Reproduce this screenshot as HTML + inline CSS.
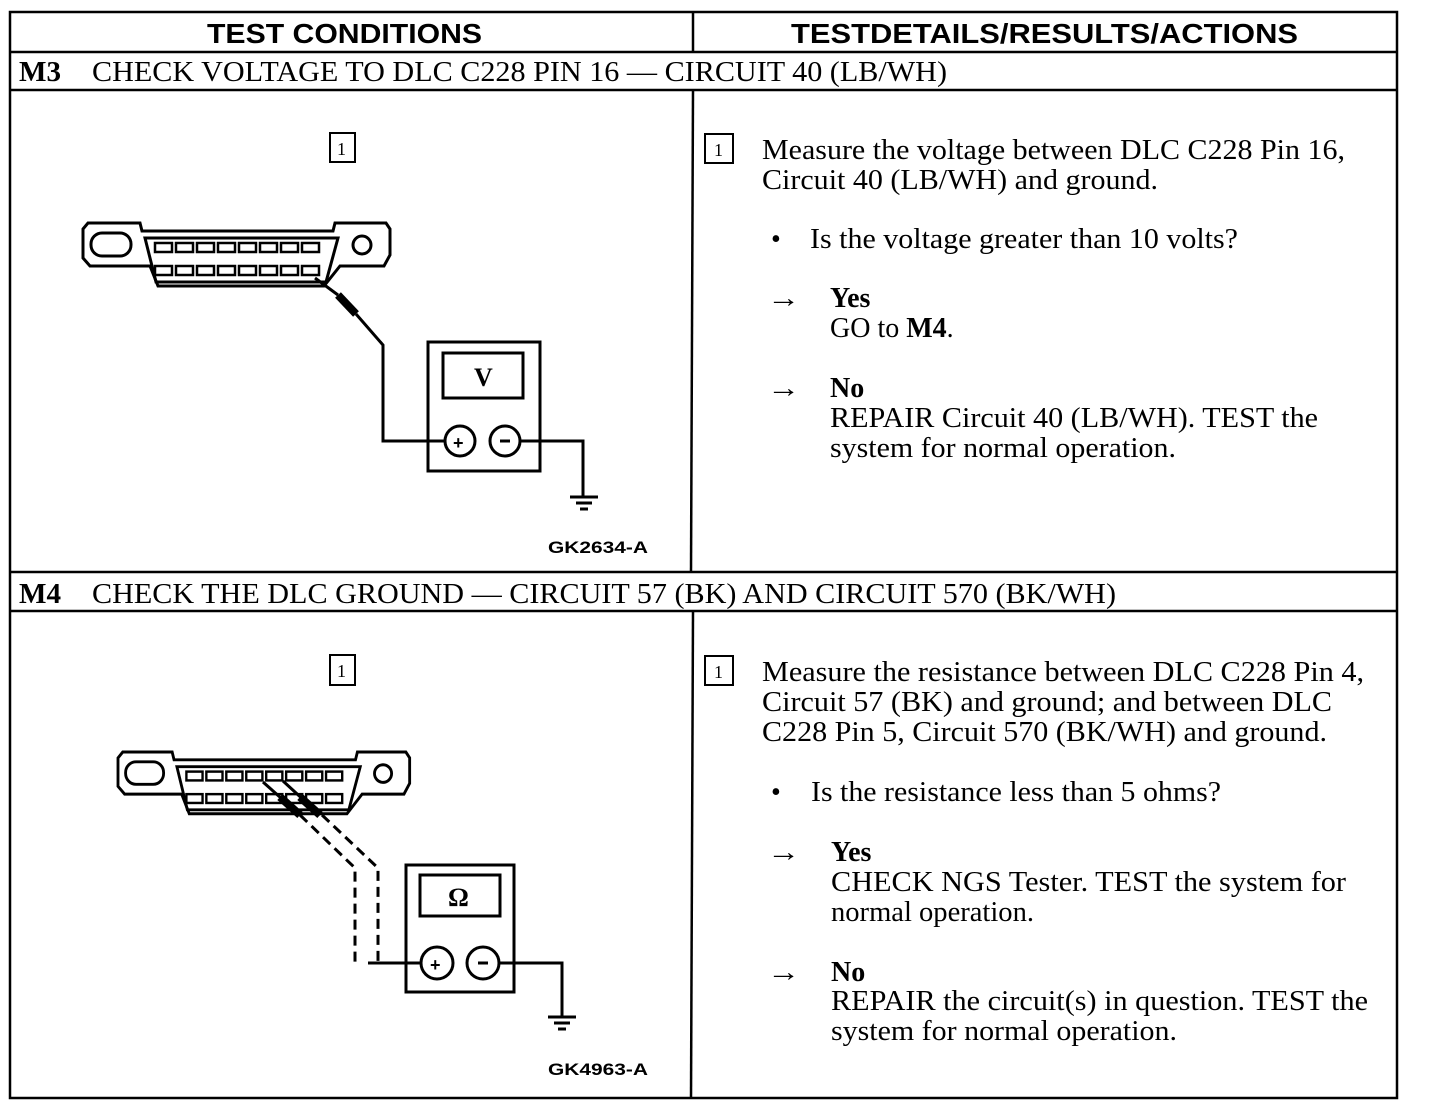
<!DOCTYPE html>
<html><head><meta charset="utf-8"><style>
html,body{margin:0;padding:0;background:#fff;}
svg{display:block;}
.s{font-family:"Liberation Serif",serif;font-size:28px;fill:#000;}
.b{font-weight:bold;}
.h{font-family:"Liberation Sans",sans-serif;font-weight:bold;font-size:28px;fill:#000;}
.g{font-family:"Liberation Sans",sans-serif;font-weight:bold;font-size:17px;fill:#000;}
</style></head><body>
<svg width="1440" height="1112" viewBox="0 0 1440 1112" xmlns="http://www.w3.org/2000/svg">
<defs>
<g id="conn" fill="none" stroke="#000" stroke-width="3">
  <path d="M83,229 L88,223 L140,223 L142,231 L333,231 L335,223 L386,223 L390,229 L390,255 L384,266 L340,266 L324,286 L158,286 L150,266 L90,266 L83,258 Z"/>
  <path d="M145,238 L338,238 L326,282 L156,282 Z"/>
  <rect x="91" y="233" width="40" height="23" rx="11"/>
  <circle cx="362" cy="245" r="9"/>
  <g stroke-width="2.5">
    <rect x="155" y="243" width="17" height="9"/><rect x="176" y="243" width="17" height="9"/><rect x="197" y="243" width="17" height="9"/><rect x="218" y="243" width="17" height="9"/><rect x="239" y="243" width="17" height="9"/><rect x="260" y="243" width="17" height="9"/><rect x="281" y="243" width="17" height="9"/><rect x="302" y="243" width="17" height="9"/>
    <rect x="155" y="266" width="17" height="9"/><rect x="176" y="266" width="17" height="9"/><rect x="197" y="266" width="17" height="9"/><rect x="218" y="266" width="17" height="9"/><rect x="239" y="266" width="17" height="9"/><rect x="260" y="266" width="17" height="9"/><rect x="281" y="266" width="17" height="9"/><rect x="302" y="266" width="17" height="9"/>
  </g>
</g>
</defs>

<g fill="none" stroke="#000" stroke-width="2.5">
  <rect x="10" y="12" width="1387" height="1086"/>
  <line x1="10" y1="52" x2="1397" y2="52"/>
  <line x1="10" y1="90" x2="1397" y2="90"/>
  <line x1="10" y1="572" x2="1397" y2="572"/>
  <line x1="10" y1="611" x2="1397" y2="611"/>
  <line x1="693" y1="12" x2="693" y2="52"/>
  <line x1="693" y1="90" x2="691" y2="572"/>
  <line x1="693" y1="611" x2="691" y2="1098"/>
</g>

<text class="h" x="207" y="43" textLength="275" lengthAdjust="spacingAndGlyphs">TEST CONDITIONS</text>
<text class="h" x="791" y="43" textLength="507" lengthAdjust="spacingAndGlyphs">TESTDETAILS/RESULTS/ACTIONS</text>
<text class="s b" x="19" y="81" textLength="42" lengthAdjust="spacingAndGlyphs">M3</text>
<text class="s" x="92" y="81" textLength="855" lengthAdjust="spacingAndGlyphs">CHECK VOLTAGE TO DLC C228 PIN 16 — CIRCUIT 40 (LB/WH)</text>
<text class="s b" x="19" y="603" textLength="42" lengthAdjust="spacingAndGlyphs">M4</text>
<text class="s" x="92" y="603" textLength="1024" lengthAdjust="spacingAndGlyphs">CHECK THE DLC GROUND — CIRCUIT 57 (BK) AND CIRCUIT 570 (BK/WH)</text>

<g fill="none" stroke="#000" stroke-width="2">
  <rect x="330" y="133" width="25" height="29"/>
  <rect x="705" y="134" width="28" height="29"/>
  <rect x="330" y="655" width="25" height="30"/>
  <rect x="705" y="656" width="28" height="29"/>
</g>
<g class="s" style="font-size:18px">
  <text x="337" y="155">1</text><text x="714" y="156">1</text>
  <text x="337" y="677">1</text><text x="714" y="678">1</text>
</g>

<text class="s" x="762" y="159" textLength="583" lengthAdjust="spacingAndGlyphs">Measure the voltage between DLC C228 Pin 16,</text>
<text class="s" x="762" y="189" textLength="396" lengthAdjust="spacingAndGlyphs">Circuit 40 (LB/WH) and ground.</text>
<text class="s" x="771" y="248">•</text>
<text class="s" x="810" y="248" textLength="428" lengthAdjust="spacingAndGlyphs">Is the voltage greater than 10 volts?</text>
<text class="s" x="767" y="307" textLength="33" lengthAdjust="spacingAndGlyphs">→</text>
<text class="s b" x="830" y="307">Yes</text>
<text class="s" x="830" y="337">GO to <tspan class="b">M4</tspan>.</text>
<text class="s" x="767" y="397" textLength="33" lengthAdjust="spacingAndGlyphs">→</text>
<text class="s b" x="830" y="397">No</text>
<text class="s" x="830" y="427" textLength="488" lengthAdjust="spacingAndGlyphs">REPAIR Circuit 40 (LB/WH). TEST the</text>
<text class="s" x="830" y="457" textLength="346" lengthAdjust="spacingAndGlyphs">system for normal operation.</text>

<text class="s" x="762" y="681" textLength="602" lengthAdjust="spacingAndGlyphs">Measure the resistance between DLC C228 Pin 4,</text>
<text class="s" x="762" y="711" textLength="570" lengthAdjust="spacingAndGlyphs">Circuit 57 (BK) and ground; and between DLC</text>
<text class="s" x="762" y="741" textLength="565" lengthAdjust="spacingAndGlyphs">C228 Pin 5, Circuit 570 (BK/WH) and ground.</text>
<text class="s" x="771" y="801">•</text>
<text class="s" x="811" y="801" textLength="410" lengthAdjust="spacingAndGlyphs">Is the resistance less than 5 ohms?</text>
<text class="s" x="767" y="861" textLength="33" lengthAdjust="spacingAndGlyphs">→</text>
<text class="s b" x="831" y="861">Yes</text>
<text class="s" x="831" y="891" textLength="515" lengthAdjust="spacingAndGlyphs">CHECK NGS Tester. TEST the system for</text>
<text class="s" x="831" y="921" textLength="203" lengthAdjust="spacingAndGlyphs">normal operation.</text>
<text class="s" x="767" y="981" textLength="33" lengthAdjust="spacingAndGlyphs">→</text>
<text class="s b" x="831" y="981">No</text>
<text class="s" x="831" y="1010" textLength="537" lengthAdjust="spacingAndGlyphs">REPAIR the circuit(s) in question. TEST the</text>
<text class="s" x="831" y="1040" textLength="346" lengthAdjust="spacingAndGlyphs">system for normal operation.</text>

<use href="#conn"/>
<g fill="none" stroke="#000" stroke-width="3">
  <line x1="315" y1="278" x2="338" y2="295"/>
  <line x1="338" y1="295" x2="356" y2="314" stroke-width="8"/>
  <polyline points="356,314 383,345 383,441 445,441"/>
  <rect x="428" y="342" width="112" height="129"/>
  <rect x="443" y="353" width="80" height="45"/>
  <circle cx="460" cy="441" r="15"/>
  <circle cx="505" cy="441" r="15"/>
  <polyline points="520,441 583,441 583,497"/>
  <line x1="570" y1="497" x2="598" y2="497"/>
  <line x1="576" y1="503" x2="592" y2="503"/>
  <line x1="580" y1="509" x2="588" y2="509"/>
</g>
<text class="s b" x="474" y="386" style="font-size:26px">V</text>
<text class="h" x="453" y="449" style="font-size:18px">+</text>
<line x1="500" y1="441" x2="510" y2="441" stroke="#000" stroke-width="3"/>
<text class="g" x="548" y="553" textLength="100" lengthAdjust="spacingAndGlyphs">GK2634-A</text>

<use href="#conn" transform="translate(118,752) scale(0.95,0.98) translate(-83,-223)"/>
<g fill="none" stroke="#000" stroke-width="3">
  <line x1="263" y1="782" x2="300" y2="815"/>
  <line x1="283" y1="781" x2="320" y2="815"/>
  <line x1="280" y1="797" x2="300" y2="815" stroke-width="8"/>
  <line x1="300" y1="797" x2="320" y2="815" stroke-width="8"/>
  <polyline points="300,815 355,868 355,963" stroke-dasharray="10,6"/>
  <polyline points="322,815 378,868 378,963" stroke-dasharray="10,6"/>
  <line x1="368" y1="963" x2="422" y2="963"/>
  <rect x="406" y="865" width="108" height="127"/>
  <rect x="420" y="875" width="80" height="41"/>
  <circle cx="437" cy="963" r="16"/>
  <circle cx="483" cy="963" r="16"/>
  <polyline points="499,963 562,963 562,1017"/>
  <line x1="548" y1="1017" x2="576" y2="1017"/>
  <line x1="554" y1="1023" x2="570" y2="1023"/>
  <line x1="558" y1="1029" x2="566" y2="1029"/>
</g>
<text class="s b" x="448" y="906" style="font-size:26px">Ω</text>
<text class="h" x="430" y="971" style="font-size:18px">+</text>
<line x1="478" y1="963" x2="488" y2="963" stroke="#000" stroke-width="3"/>
<text class="g" x="548" y="1075" textLength="100" lengthAdjust="spacingAndGlyphs">GK4963-A</text>
</svg>
</body></html>
